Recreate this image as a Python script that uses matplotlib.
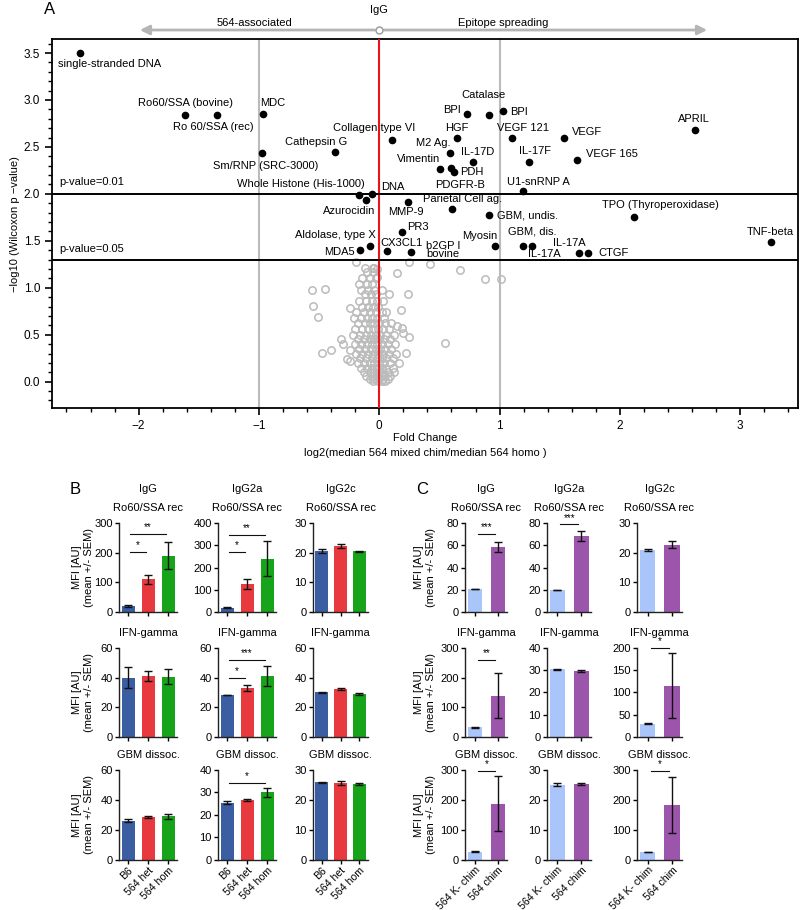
import matplotlib
matplotlib.use('Agg')
import matplotlib.pyplot as plt
import numpy as np

plt.rcParams['font.family'] = ['Liberation Sans', 'DejaVu Sans']

# ---------------- Panel A data ----------------
hit_names = ["single-stranded DNA", "Ro60/SSA (bovine)", "Ro 60/SSA (rec)", "MDC",
             "Sm/RNP (SRC-3000)", "Cathepsin G", "Collagen type VI",
             "Whole Histone (His-1000)", "Azurocidin", "DNA", "MMP-9",
             "Parietal Cell ag.", "GBM, undis.", "PR3", "Aldolase, type X", "MDA5",
             "CX3CL1", "b2GP I\nbovine", "Myosin", "GBM, dis.", "IL-17A", "IL-17A",
             "CTGF", "TPO (Thyroperoxidase)", "TNF-beta", "U1-snRNP A", "Vimentin",
             "PDGFR-B", "PDH", "M2 Ag.", "HGF", "IL-17D", "BPI", "Catalase", "BPI",
             "VEGF 121", "IL-17F", "VEGF", "VEGF 165", "APRIL"]
hit_x = [-2.491, -1.615, -1.349, -0.968, -0.977, -0.364, 0.102, -0.170, -0.107, -0.057,
         0.240, 0.606, 0.912, 0.186, -0.078, -0.161, 0.066, 0.263, 0.964, 1.192, 1.270,
         1.658, 1.733, 2.121, 3.255, 1.192, 0.504, 0.596, 0.621, 0.587, 0.643, 0.781,
         0.731, 0.914, 1.028, 1.106, 1.245, 1.538, 1.646, 2.623]
hit_y = [3.50, 2.84, 2.84, 2.85, 2.43, 2.45, 2.57, 1.99, 1.94, 2.00, 1.91, 1.84, 1.77,
         1.59, 1.44, 1.40, 1.39, 1.38, 1.44, 1.45, 1.45, 1.37, 1.37, 1.75, 1.49, 2.03,
         2.27, 2.28, 2.23, 2.44, 2.59, 2.34, 2.85, 2.84, 2.88, 2.60, 2.34, 2.59, 2.36, 2.68]
# label anchor (left edge, vertical centre) for each hit
label_x = [-2.666, -2.008, -1.717, -0.993, -1.384, -0.785, -0.386, -1.185, -0.469, 0.013,
           0.072, 0.363, 0.978, 0.230, -0.702, -0.461, 0.013, 0.388, 0.687, 1.070, 1.236,
           1.444, 1.819, 1.852, 3.050, 1.062, 0.146, 0.463, 0.671, 0.304, 0.546, 0.679,
           0.529, 0.679, 1.087, 0.978, 1.162, 1.602, 1.719, 2.484]
label_y = [3.383, 2.968, 2.713, 2.968, 2.298, 2.553, 2.702, 2.106, 1.819, 2.074, 1.809,
           1.947, 1.766, 1.649, 1.564, 1.383, 1.479, 1.404, 1.553, 1.596, 1.362, 1.479,
           1.372, 1.883, 1.596, 2.128, 2.372, 2.096, 2.234, 2.543, 2.702, 2.447, 2.894,
           3.053, 2.872, 2.702, 2.457, 2.660, 2.426, 2.798]

# non-significant antigens (open grey circles)
ns_x = [-0.56, -0.45, -0.55, -0.51, -0.24, -0.17, -0.19, -0.12, -0.05, -0.10, -0.05,
        -0.04, 0.08, 0.15, -0.32, -0.30, -0.40, -0.48, -0.24, -0.27, -0.24, 0.25, 0.42,
        0.67, 0.88, 1.01, 0.24, 0.18, 0.19, 0.20, 0.25, 0.55, 0.22, 0.15, -0.02, -0.02,
        -0.14, -0.08, -0.03, -0.10, -0.06, -0.15, -0.09, -0.04, 0.02, -0.12, -0.07, -0.03,
        -0.17, -0.11, -0.06, -0.02, 0.03, -0.14, -0.09, -0.05, -0.01,
        -0.19, -0.13, -0.08, -0.03, 0.02, 0.06, -0.21, -0.15, -0.10, -0.06, -0.02, 0.04,
        -0.18, -0.12, -0.08, -0.04, 0.00, 0.05, 0.10, -0.20, -0.14, -0.09, -0.05, -0.01,
        0.03, 0.08, -0.22, -0.16, -0.11, -0.07, -0.03, 0.01, 0.06, 0.12,
        -0.18, -0.13, -0.08, -0.04, 0.00, 0.04, 0.09, -0.20, -0.15, -0.10, -0.06, -0.02,
        0.02, 0.07, 0.13, -0.17, -0.12, -0.07, -0.03, 0.01, 0.05, 0.10,
        -0.19, -0.14, -0.09, -0.05, -0.01, 0.03, 0.08, 0.14, -0.16, -0.11, -0.06, -0.02,
        0.02, 0.06, 0.11, -0.18, -0.13, -0.08, -0.04, 0.00, 0.04, 0.09, 0.16,
        -0.15, -0.10, -0.06, -0.02, 0.02, 0.06, 0.11, -0.13, -0.08, -0.04, 0.00, 0.03,
        0.07, 0.12, -0.11, -0.06, -0.02, 0.02, 0.05, 0.09, -0.08, -0.04, 0.00, 0.03, 0.07,
        -0.05, -0.01, 0.02, 0.05]
ns_y = [0.98, 0.99, 0.81, 0.69, 0.79, 1.04, 1.27, 1.21, 1.21, 1.17, 1.17,
        1.21, 0.93, 0.59, 0.45, 0.40, 0.34, 0.31, 0.34, 0.245, 0.22, 1.27, 1.25,
        1.19, 1.09, 1.09, 0.93, 0.76, 0.57, 0.52, 0.48, 0.41, 0.31, 1.16, 1.20, 1.12,
        1.10, 1.10, 1.10, 1.04, 1.04, 0.98, 0.98, 0.98, 0.98, 0.93, 0.93, 0.93,
        0.86, 0.86, 0.86, 0.86, 0.86, 0.80, 0.80, 0.80, 0.80,
        0.74, 0.74, 0.74, 0.74, 0.74, 0.74, 0.68, 0.68, 0.68, 0.68, 0.68, 0.68,
        0.62, 0.62, 0.62, 0.62, 0.62, 0.62, 0.62, 0.56, 0.56, 0.56, 0.56, 0.56,
        0.56, 0.56, 0.50, 0.50, 0.50, 0.50, 0.50, 0.50, 0.50, 0.50,
        0.45, 0.45, 0.45, 0.45, 0.45, 0.45, 0.45, 0.40, 0.40, 0.40, 0.40, 0.40,
        0.40, 0.40, 0.40, 0.35, 0.35, 0.35, 0.35, 0.35, 0.35, 0.35,
        0.30, 0.30, 0.30, 0.30, 0.30, 0.30, 0.30, 0.30, 0.25, 0.25, 0.25, 0.25,
        0.25, 0.25, 0.25, 0.20, 0.20, 0.20, 0.20, 0.20, 0.20, 0.20, 0.20,
        0.15, 0.15, 0.15, 0.15, 0.15, 0.15, 0.15, 0.10, 0.10, 0.10, 0.10, 0.10,
        0.10, 0.10, 0.06, 0.06, 0.06, 0.06, 0.06, 0.06, 0.03, 0.03, 0.03, 0.03, 0.03,
        0.01, 0.01, 0.01, 0.01]

# ---------------- Panels B / C data ----------------
b_groups = ["B6", "564 het", "564 hom"]
b_colors = ["#3B5DA2", "#E8393E", "#17A31A"]
c_groups = ["564 K- chim", "564 chim"]
c_colors = ["#A9C5FA", "#9B56AB"]
isotypes = ["IgG", "IgG2a", "IgG2c"]
antigens = ["Ro60/SSA rec", "IFN-gamma", "GBM dissoc."]

# B: [antigen row][isotype col]
b_vals = [[[21, 110, 190], [21, 126, 240], [20.5, 22.2, 20.4]],
          [[40, 41, 40.5], [28.3, 33, 41], [30, 32.5, 29]],
          [[26, 28.5, 29], [25.3, 26.5, 30], [25.8, 25.6, 25.3]]]
b_errs = [[[2, 16, 46], [2, 21, 78], [0.7, 0.6, 0.2]],
          [[7, 3.5, 5], [0.3, 1.8, 6.5], [0.5, 0.8, 0.4]],
          [[1, 0.8, 1.8], [0.6, 0.3, 2], [0.3, 0.6, 0.4]]]
b_ymax = [[300, 400, 30], [60, 60, 60], [60, 40, 30]]
b_ystep = [[100, 100, 10], [20, 20, 20], [20, 10, 10]]
b_sig = {(0, 0): [(0, 1, 203, "*"), (0, 2, 261, "**")],
         (0, 1): [(0, 1, 271, "*"), (0, 2, 345, "**")],
         (1, 1): [(0, 1, 39.8, "*"), (0, 2, 51.6, "***")],
         (2, 1): [(0, 2, 34.3, "*")]}

c_vals = [[[20.8, 58], [19.9, 68.4], [20.8, 22.7]],
          [[33, 139], [30.3, 29.7], [30.4, 115.5]],
          [[26, 187], [25, 25.3], [25, 182.5]]]
c_errs = [[[0.4, 4.5], [0.4, 4.5], [0.4, 1.2]],
          [[2, 76], [0.4, 0.5], [0.5, 73]],
          [[1.5, 93], [0.5, 0.4], [1, 93]]]
c_ymax = [[80, 80, 30], [300, 40, 200], [300, 30, 300]]
c_ystep = [[20, 20, 10], [100, 10, 50], [100, 10, 100]]
c_sig = {(0, 0): [(0, 1, 70, "***")],
         (0, 1): [(0, 1, 78.5, "***")],
         (1, 0): [(0, 1, 258, "**")],
         (1, 2): [(0, 1, 199, "*")],
         (2, 0): [(0, 1, 297, "*")],
         (2, 2): [(0, 1, 297, "*")]}

# ---------------- Figure ----------------
W, H = 800, 910
fig = plt.figure(figsize=(8, 9.1), dpi=100)


def fx(px):
    return px / W


def fy(py):
    return 1 - py / H


# ----- Panel A -----
axA = fig.add_axes([fx(52), fy(408), fx(798) - fx(52), fy(39.3) - fy(408)])
axA.set_xlim(-2.72, 3.48)
axA.set_ylim(-0.28, 3.646)
grey = "#BBBBBB"
axA.axvline(-1, color=grey, lw=1.5, zorder=1)
axA.axvline(1, color=grey, lw=1.5, zorder=1)
axA.plot(ns_x, ns_y, 'o', ms=5.3, mfc='none', mec=grey, mew=1.1, zorder=2, ls='none')
axA.axvline(0, color='#E8131B', lw=1.5, zorder=3)
axA.axhline(2.0, color='black', lw=1.4, zorder=3)
axA.axhline(-np.log10(0.05), color='black', lw=1.4, zorder=3)
axA.plot(hit_x, hit_y, 'o', ms=4.5, color='black', zorder=4, ls='none')
for name, lx, ly in zip(hit_names, label_x, label_y):
    axA.text(lx, ly, name, fontsize=8, ha='left', va='center', linespacing=0.8, zorder=5)
axA.text(-2.658, 2.128, "p-value=0.01", fontsize=8, ha='left', va='center')
axA.text(-2.658, 1.415, "p-value=0.05", fontsize=8, ha='left', va='center')

axA.set_xticks([-2, -1, 0, 1, 2, 3])
axA.set_xticks(np.arange(-2.6, 3.5, 0.2), minor=True)
axA.set_yticks([0.0, 0.5, 1.0, 1.5, 2.0, 2.5, 3.0, 3.5])
axA.set_yticks(np.arange(-0.2, 3.65, 0.1), minor=True)
axA.yaxis.set_major_formatter(matplotlib.ticker.FormatStrFormatter('%.1f'))
axA.tick_params(axis='both', which='major', direction='out', length=5, width=1.2, labelsize=8.5)
axA.tick_params(axis='both', which='minor', direction='out', length=3, width=1.0)
for s in axA.spines.values():
    s.set_linewidth(1.3)
axA.set_xlabel("Fold Change\nlog2(median 564 mixed chim/median 564 homo )", fontsize=8,
               labelpad=1, linespacing=1.65)
axA.set_ylabel("\u2212log10 (Wilcoxon p \u2212value)", fontsize=8, labelpad=3)

# arrows above panel A
ya = 3.745
axA.annotate('', xy=(-1.99, ya), xytext=(-0.04, ya),
             arrowprops=dict(arrowstyle='-|>', color='#B5B5B5', lw=2, mutation_scale=14,
                             shrinkA=0, shrinkB=0), annotation_clip=False)
axA.annotate('', xy=(2.725, ya), xytext=(0.04, ya),
             arrowprops=dict(arrowstyle='-|>', color='#B5B5B5', lw=2, mutation_scale=14,
                             shrinkA=0, shrinkB=0), annotation_clip=False)
axA.plot([0], [ya], 'o', ms=5, mfc='white', mec='#A0A0A0', mew=1.1, clip_on=False, zorder=6)
axA.text(-1.04, 3.82, "564-associated", fontsize=8, ha='center', va='center', clip_on=False)
axA.text(1.03, 3.82, "Epitope spreading", fontsize=8, ha='center', va='center', clip_on=False)
axA.text(0, 3.96, "IgG", fontsize=8, ha='center', va='center', clip_on=False)
fig.text(fx(50), fy(10), "A", fontsize=12, ha='center', va='center')

# ----- Panels B and C -----
row_bottom = [612.3, 737.3, 859.5]
row_h = 89.6


def bar_panel(left, width, row, col, vals, errs, colors, ymax, ystep, sigs, xlim, bw,
              groups, show_xlabels):
    ax = fig.add_axes([fx(left), fy(row_bottom[row]), fx(width), row_h / H])
    x = np.arange(len(vals))
    ax.bar(x, vals, width=bw, color=colors, zorder=2)
    ax.errorbar(x, vals, yerr=errs, fmt='none', ecolor='#111111', elinewidth=1.0,
                capsize=3.2, capthick=1.0, zorder=3, clip_on=False)
    ax.set_xlim(*xlim)
    ax.set_ylim(0, ymax)
    ax.set_yticks(np.arange(0, ymax + 0.001, ystep))
    ax.set_xticks(x)
    for side in ['top', 'right']:
        ax.spines[side].set_visible(False)
    for side in ['left', 'bottom']:
        ax.spines[side].set_linewidth(1.0)
        ax.spines[side].set_color('#222222')
    ax.tick_params(axis='y', direction='out', length=3, width=1.0, labelsize=8, pad=1.5)
    ax.tick_params(axis='x', direction='out', length=3, width=1.0, labelsize=7.6, pad=1)
    if show_xlabels:
        ax.set_xticklabels(groups, rotation=45, ha='right', va='top', rotation_mode='anchor')
    else:
        ax.set_xticklabels([])
    for (i, j, yl, stars) in sigs:
        ax.plot([i + 0.12, j - 0.12], [yl, yl], color='#111111', lw=0.8, clip_on=False)
        ax.text((i + j) / 2, yl + ymax * 0.02, stars, fontsize=7, ha='center', va='bottom',
                clip_on=False)
    return ax


b_left = [119, 218, 313]
b_width = [58, 58, 55]
c_left = [465, 547, 637]
c_width = [42, 44, 45]

for r in range(3):
    for c in range(3):
        bar_panel(b_left[c], b_width[c], r, c, b_vals[r][c], b_errs[r][c], b_colors,
                  b_ymax[r][c], b_ystep[r][c], b_sig.get((r, c), []), (-0.45, 2.45), 0.65,
                  b_groups, r == 2)
        bar_panel(c_left[c], c_width[c], r, c, c_vals[r][c], c_errs[r][c], c_colors,
                  c_ymax[r][c], c_ystep[r][c], c_sig.get((r, c), []), (-0.43, 1.4), 0.63,
                  c_groups, r == 2)
        # antigen titles
        fig.text(fx(b_left[c] + b_width[c] / 2), fy(row_bottom[r] - row_h - 14.5),
                 antigens[r], fontsize=8, ha='center', va='center')
        fig.text(fx(c_left[c] + c_width[c] / 2), fy(row_bottom[r] - row_h - 14.5),
                 antigens[r], fontsize=8, ha='center', va='center')
    # y labels
    fig.text(fx(83), fy(row_bottom[r] - row_h / 2), "MFI [AU]\n(mean +/- SEM)", fontsize=8,
             rotation=90, ha='center', va='center', multialignment='center')
    fig.text(fx(425), fy(row_bottom[r] - row_h / 2), "MFI [AU]\n(mean +/- SEM)", fontsize=8,
             rotation=90, ha='center', va='center', multialignment='center')

for c in range(3):
    fig.text(fx(b_left[c] + b_width[c] / 2), fy(489), isotypes[c], fontsize=8,
             ha='center', va='center')
    fig.text(fx(c_left[c] + c_width[c] / 2), fy(489), isotypes[c], fontsize=8,
             ha='center', va='center')

fig.text(fx(75), fy(490), "B", fontsize=12, ha='center', va='center')
fig.text(fx(422), fy(490), "C", fontsize=12, ha='center', va='center')

fig.savefig("out.png", dpi=100)
